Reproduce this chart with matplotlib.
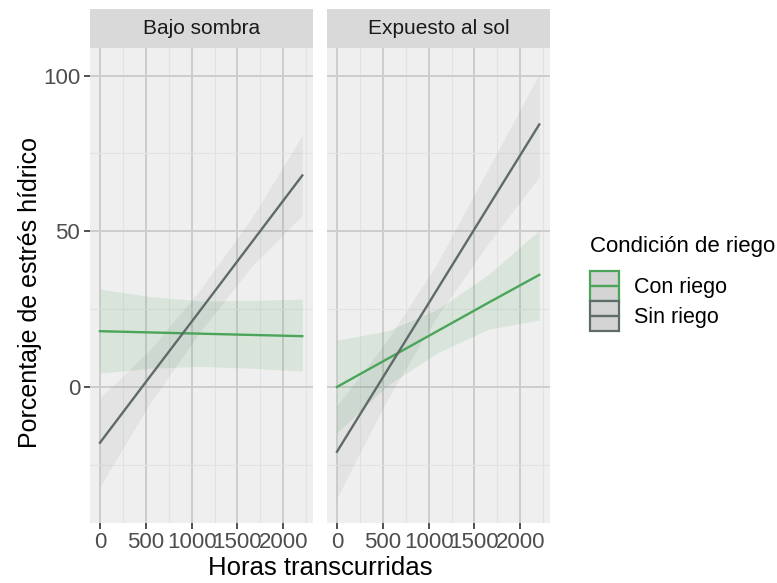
import matplotlib.pyplot as plt
from matplotlib.lines import Line2D
from matplotlib.patches import Rectangle

plt.rcParams['font.family'] = ['Liberation Sans', 'DejaVu Sans']

panels = ["Bajo sombra", "Expuesto al sol"]
groups = ["Con riego", "Sin riego"]
colors = {"Con riego": "#4aa55a", "Sin riego": "#5f6b69"}

# fitted line and confidence band, read at a few hours
hours = [0, 550, 1100, 1650, 2208]

fit = {
    ("Bajo sombra", "Con riego"): [17.9, 17.5, 17.1, 16.7, 16.3],
    ("Bajo sombra", "Sin riego"): [-17.9, 3.5, 24.8, 46.2, 67.9],
    ("Expuesto al sol", "Con riego"): [0.0, 9.0, 18.0, 27.0, 36.0],
    ("Expuesto al sol", "Sin riego"): [-20.8, 5.4, 31.6, 57.8, 84.3],
}
upper = {
    ("Bajo sombra", "Con riego"): [31.4, 29.0, 27.6, 27.8, 28.2],
    ("Bajo sombra", "Sin riego"): [-3.5, 12.0, 31.5, 54.0, 80.8],
    ("Expuesto al sol", "Con riego"): [15.0, 18.0, 25.0, 36.0, 50.3],
    ("Expuesto al sol", "Sin riego"): [-6.0, 15.0, 40.0, 70.0, 100.5],
}
lower = {
    ("Bajo sombra", "Con riego"): [4.4, 6.0, 6.6, 6.0, 5.1],
    ("Bajo sombra", "Sin riego"): [-32.0, -5.0, 18.0, 38.5, 55.1],
    ("Expuesto al sol", "Con riego"): [-14.7, 0.5, 11.0, 18.5, 21.5],
    ("Expuesto al sol", "Sin riego"): [-35.6, -4.0, 23.0, 46.0, 67.5],
}

x_ticks = [0, 500, 1000, 1500, 2000]
y_ticks = [0, 50, 100]


class KeyHandler:
    # grey box with coloured border and a line through the middle, like ggplot's smooth key
    def legend_artist(self, legend, orig_handle, fontsize, handlebox):
        x0, y0 = handlebox.xdescent, handlebox.ydescent
        w, h = handlebox.width, handlebox.height
        c = orig_handle.get_color()
        tr = handlebox.get_transform()
        rect = Rectangle((-x0, -y0), w, h, facecolor="#d4d4d4", edgecolor=c, lw=1.6, transform=tr)
        line = Line2D([-x0 + 1, -x0 + w - 1], [-y0 + h / 2] * 2, color=c, lw=1.7, transform=tr)
        handlebox.add_artist(rect)
        handlebox.add_artist(line)
        return rect


fig = plt.figure(figsize=(7.77, 5.83), dpi=100)
W, H = 777, 583

panel_left = [90, 327]
panel_w = 223
top, bottom = 47.5, 522.7
strip_top = 8.5

for i, panel in enumerate(panels):
    ax = fig.add_axes([panel_left[i] / W, 1 - bottom / H, panel_w / W, (bottom - top) / H])
    ax.set_facecolor("#efefef")
    for g in groups:
        c = colors[g]
        ax.fill_between(hours, lower[(panel, g)], upper[(panel, g)], color=c,
                        alpha=0.13 if g == "Con riego" else 0.09, lw=0, zorder=2)
    for g in groups:
        ax.plot(hours, fit[(panel, g)], color=colors[g], lw=1.7, zorder=3)
    ax.set_xlim(-109, 2325)
    ax.set_ylim(-43.6, 109)
    ax.set_xticks(x_ticks)
    ax.set_xticks([250, 750, 1250, 1750, 2250], minor=True)
    ax.set_yticks(y_ticks)
    ax.set_yticks([-25, 25, 75], minor=True)
    ax.grid(True, which="major", color="#cdcdcd", lw=1.4, zorder=1)
    ax.grid(True, which="minor", color="#e2e2e2", lw=0.8, zorder=1)
    ax.set_axisbelow(True)
    for s in ax.spines.values():
        s.set_visible(False)
    ax.tick_params(axis="x", which="major", length=4, width=1.2, color="#333333",
                   labelsize=16, labelcolor="#4d4d4d", pad=3)
    ax.tick_params(which="minor", length=0)
    if i == 0:
        ax.tick_params(axis="y", which="major", length=4, width=1.2, color="#333333",
                       labelsize=16, labelcolor="#4d4d4d", pad=3)
    else:
        ax.tick_params(axis="y", which="major", length=0, labelleft=False)

    sx = fig.add_axes([panel_left[i] / W, 1 - top / H, panel_w / W, (top - strip_top) / H])
    sx.set_facecolor("#d9d9d9")
    sx.set_xticks([])
    sx.set_yticks([])
    for s in sx.spines.values():
        s.set_visible(False)
    sx.text(0.5, 0.5, panel, ha="center", va="center", fontsize=15, color="#1a1a1a",
            transform=sx.transAxes)

fig.text(320 / W, 1 - 568 / H, "Horas transcurridas", ha="center", va="center",
         fontsize=18.5, color="black")
fig.text(30 / W, 1 - 292 / H, "Porcentaje de estrés hídrico", ha="center", va="center",
         rotation=90, fontsize=18, color="black")

# legend title as its own text, ggplot leaves a gap between title and keys
fig.text(590 / W, 1 - 247 / H, "Condición de riego", ha="left", va="center",
         fontsize=16, color="black")
handles = [Line2D([], [], color=colors[g]) for g in groups]
leg = fig.legend(handles, groups, loc="upper left",
                 bbox_to_anchor=(590 / W, 1 - 271 / H), frameon=False,
                 fontsize=15.5, handlelength=1.35, handleheight=1.75,
                 handletextpad=0.7, labelspacing=0.0, borderaxespad=0, borderpad=0,
                 handler_map={Line2D: KeyHandler()})

fig.savefig("out.png", dpi=100)
